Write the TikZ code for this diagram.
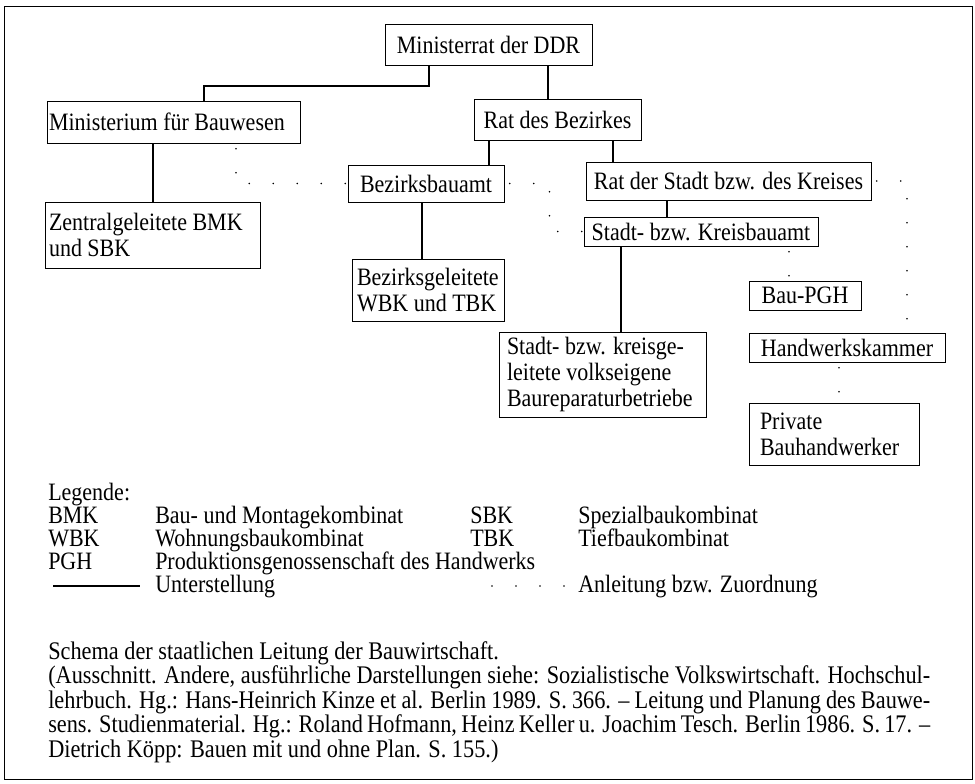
\documentclass[tikz,border=0pt]{standalone}
\usepackage{fontspec}
\setmainfont{Liberation Serif}[FakeStretch=0.88]
\usetikzlibrary{calc}
\usetikzlibrary{positioning}

\tikzset{
  box/.style={draw=black, line width=0.75pt, inner xsep=2pt, inner ysep=0pt, font=\fontsize{18.75}{19.5}\selectfont},
  sub/.style={line width=1.5pt},
  leit/.style={line width=1.3pt, line cap=round, dash pattern=on 0pt off 18pt, dash phase=14pt},
  legtext/.style={anchor=base west, inner sep=0pt, font=\fontsize{18.75}{19.5}\selectfont},
}

\begin{document}
\begin{tikzpicture}[x=0.75pt, y=-0.75pt]
  \useasboundingbox (0,0) rectangle (975,783);
  \draw[line width=0.75pt] (4,6) rectangle (972,779);

  % Leitungsebenen
  \node[box, minimum width=155.25pt, minimum height=30.75pt] (mrat) at (488.5,44.5) {Ministerrat der DDR};
  \node[box, align=flush left, text width=186.75pt, inner xsep=1.5pt, minimum height=31.5pt] (mfb) at (173.5,122) {Ministerium für Bauwesen};
  \node[box, minimum width=125.25pt, minimum height=30.75pt] (rdb) at (557.5,119.5) {Rat des Bezirkes};
  \node[box, minimum width=117pt, minimum height=27.75pt] (bba) at (426,183.5) {Bezirksbauamt};
  \node[box, minimum width=213.75pt, minimum height=28.5pt] (rds) at (728.5,181) {Rat der Stadt bzw. des Kreises};
  \node[box, minimum width=175.5pt, minimum height=21.75pt] (skb) at (701,231.5) {Stadt- bzw. Kreisbauamt};

  % Betriebe
  \node[box, align=flush left, text width=155.25pt, inner xsep=3pt, minimum height=49.5pt] (zbmk) at (152.5,235) {Zentralgeleitete BMK\\und SBK};
  \node[box, align=flush left, text width=106.5pt, inner xsep=3.75pt, minimum height=46.5pt] (bwbk) at (428,290) {Bezirksgeleitete\\WBK und TBK};
  \node[box, align=flush left, text width=143.25pt, inner xsep=6pt, minimum height=63.75pt] (sbrb) at (602.5,374.5) {Stadt- bzw. kreisge-\\leitete volkseigene\\Baureparaturbetriebe};
  \node[box, minimum width=84pt, minimum height=21.75pt] (bpgh) at (805,295.5) {Bau-PGH};
  \node[box, minimum width=147pt, minimum height=21.75pt] (hwk) at (847,347.5) {Handwerkskammer};
  \node[box, align=flush left, text width=111pt, inner xsep=8.25pt, minimum height=46.5pt] (priv) at (834,434) {Private\\Bauhandwerker};

  % Unterstellung
  \draw[sub] (mrat.south -| 429,0) -- ++(0,20) -| (mfb.north -| 204,0);
  \draw[sub] (mrat.south -| 548,0) -- (rdb.north -| 548,0);
  \draw[sub] (mfb.south -| 153,0) -- (zbmk.north -| 153,0);
  \draw[sub] (rdb.south -| 489,0) -- (bba.north -| 489,0);
  \draw[sub] (rdb.south -| 613,0) -- (rds.north -| 613,0);
  \draw[sub] (bba.south -| 422,0) -- (bwbk.north -| 422,0);
  \draw[sub] (rds.south -| 667,0) -- (skb.north -| 667,0);
  \draw[sub] (skb.south -| 621,0) -- (sbrb.north -| 621,0);

  % Anleitung bzw. Zuordnung
  \draw[leit] (mfb.south -| 236,0) |- (bba.west);
  \draw[leit] (bba.east) -| ($(skb.west)+(-34,0)$) -- (skb.west);
  \draw[leit] (rds.east) -| (hwk.north -| 907,0);
  \draw[leit] (skb.south -| 789,0) -- (bpgh.north -| 789,0);
  \draw[leit] (hwk.south -| 839,0) -- (priv.north -| 839,0);

  % Legende
  \node[legtext] (leg) at (48,500) {Legende:};
  \node[legtext] (bmk) at (48,523) {BMK};
  \node[legtext] (bmkt) at (155,523) {Bau- und Montagekombinat};
  \node[legtext] (sbk) at (470,523) {SBK};
  \node[legtext] (sbkt) at (578,523) {Spezialbaukombinat};
  \node[legtext] (wbk) at (48,546) {WBK};
  \node[legtext] (wbkt) at (155,546) {Wohnungsbaukombinat};
  \node[legtext] (tbk) at (470,546) {TBK};
  \node[legtext] (tbkt) at (578,546) {Tiefbaukombinat};
  \node[legtext] (pgh) at (48,569) {PGH};
  \node[legtext] (pght) at (155,569) {Produktionsgenossenschaft des Handwerks};
  \node[legtext] (unt) at (155,592) {Unterstellung};
  \node[legtext] (anl) at (578,592) {Anleitung bzw. Zuordnung};
  \coordinate (u1) at (53,586);
  \coordinate (u2) at (140,586);
  \draw[sub] (u1) -- (u2);
  \coordinate (a1) at (492,586);
  \coordinate (a2) at (566,586);
  \draw[leit, dash phase=0pt] (a1) -- (a2);

  % Bildunterschrift
  \node[anchor=base west, inner sep=0pt, text width=661.5pt, align=justify, font=\fontsize{19}{16.9}\selectfont] (cap) at (48,659) {Schema der staatlichen Leitung der Bauwirtschaft.\\(Ausschnitt. Andere, ausführliche Darstellungen siehe: Sozialistische Volkswirtschaft. Hochschul-\linebreak lehrbuch. Hg.: Hans-Heinrich Kinze et al. Berlin 1989. S.~366. – Leitung und Planung des Bauwe-\linebreak sens. Studienmaterial. Hg.: Roland Hofmann, Heinz Keller u. Joachim Tesch. Berlin 1986. S.~17. –\linebreak Dietrich Köpp: Bauen mit und ohne Plan. S.~155.)};
\end{tikzpicture}
\end{document}
